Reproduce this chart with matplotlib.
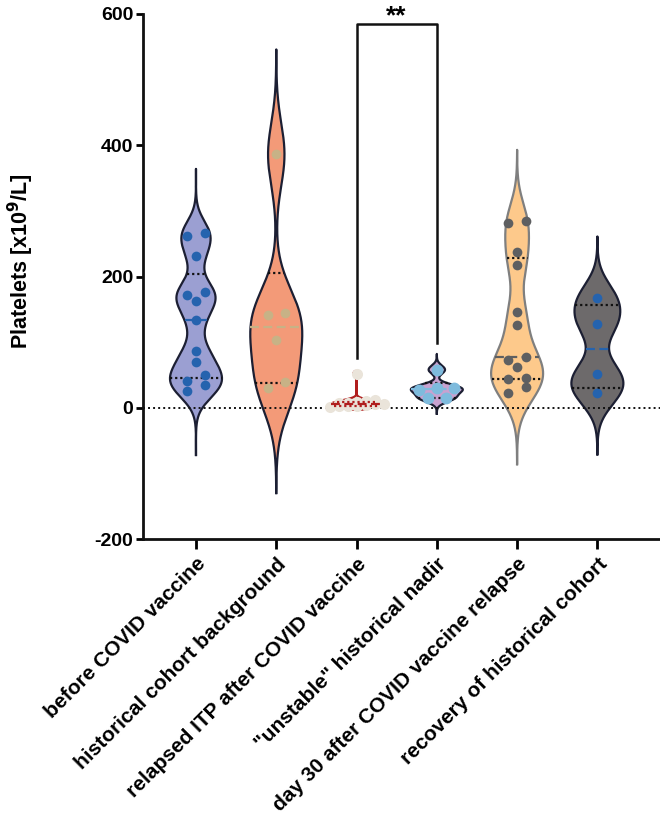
import numpy as np
import matplotlib
matplotlib.use('Agg')
import matplotlib.pyplot as plt

plt.rcParams['font.family'] = ['Liberation Sans', 'DejaVu Sans']
plt.rcParams['font.weight'] = 'bold'

# ---------------- data ----------------
categories = ["before COVID vaccine", "historical cohort background",
              "relapsed ITP after COVID vaccine", '"unstable" historical nadir',
              "day 30 after COVID vaccine relapse", "recovery of historical cohort"]

before_vaccine = [267, 262, 231, 177, 172, 163, 133, 86, 70, 50, 41, 35, 25]
historical_background = [386, 145, 141, 104, 40, 30]
relapsed_after_vaccine = [52, 12, 10, 9, 8, 7, 6, 5, 4, 3, 2, 2, 1]
unstable_nadir = [58, 30, 30, 27, 15, 15]
day30_relapse = [285, 282, 237, 218, 146, 126, 78, 73, 62, 45, 44, 32, 22]
recovery_historical = [167, 128, 51, 23]

groups = [before_vaccine, historical_background, relapsed_after_vaccine,
          unstable_nadir, day30_relapse, recovery_historical]

y_ticks = [-200, 0, 200, 400, 600]
y_label = "Platelets [x10$^{\\mathbf{9}}$/L]"
bracket_pair = (2, 3)
bracket_top = 585
bracket_ends = [76, 99]
significance_label = "**"

# ---------------- styles ----------------
fills = ["#9B9FD2", "#F39A78", "#EEE9E1", "#C8A2D0", "#FDC98B", "#6D6A6B"]
edges = ["#1C1F33", "#1C1F33", "#B01E1E", "#1C1F33", "#7F7F7F", "#1C1F33"]
point_cols = ["#2563AE", "#C7B286", "#EAE4DA", "#7EBBDD", "#5E5F61", "#2563AE"]
median_cols = ["#2563AE", "#C7B286", "#B01E1E", "#7EBBDD", "#5E5F61", "#2563AE"]
quart_cols = ["#111111", "#111111", "#B01E1E", "#111111", "#111111", "#111111"]
lines_on_top = [False, False, True, False, False, False]
bws = [22, 48, 3.5, 6.5, 32, 27]
exts = [97, 160, 4, 24, 108, 94]
pt_spacing_px = [17.4, 17.4, 9.0, 17.5, 17.4, 17.4]
row_thresh = [13, 13, 6, 13, 13, 13]
pt_size = [7, 7, 8, 8.5, 7, 7]

W, H, DPI = 6.6, 8.23, 100
fig = plt.figure(figsize=(W, H), dpi=DPI)
ax = fig.add_axes([143 / 660, 1 - 539 / 823, (660 - 143) / 660, (539 - 14) / 823])
ax.set_xlim(-0.66, 5.78)
ax.set_ylim(-200, 600)

px_per_cat = (660 - 143) / (5.78 + 0.66)
px_per_val = (539 - 14) / 800.0
max_half = 26.0 / px_per_cat


def kde(vals, grid, bw):
    v = np.asarray(vals, float)[:, None]
    return np.exp(-0.5 * ((grid[None, :] - v) / bw) ** 2).sum(axis=0)


def swarm(vals, spacing_units, thresh_units):
    order = sorted(vals, reverse=True)
    rows = []
    for v in order:
        if rows and rows[-1][0] - v < thresh_units:
            rows[-1].append(v)
        else:
            rows.append([v])
    xs, ys = [], []
    for row in rows:
        n = len(row)
        for i, v in enumerate(row):
            xs.append(((n - 1) / 2 - i) * spacing_units)
            ys.append(v)
    return np.array(xs), np.array(ys)


for i, vals in enumerate(groups):
    vals = np.asarray(vals, float)
    lo, hi = vals.min() - exts[i], vals.max() + exts[i]
    grid = np.linspace(lo, hi, 600)
    d = kde(vals, grid, bws[i])
    scale = max_half / d.max()
    half = d * scale
    ax.fill_betweenx(grid, i - half, i + half, facecolor=fills[i],
                     edgecolor='none', zorder=2)
    xs_out = np.concatenate([i - half, (i + half)[::-1], [i - half[0]]])
    ys_out = np.concatenate([grid, grid[::-1], [grid[0]]])
    ax.plot(xs_out, ys_out, color=edges[i], lw=1.6, zorder=3,
            solid_joinstyle='round')

    lz = 7 if lines_on_top[i] else 4
    q1, med, q3 = np.percentile(vals, [25, 50, 75], method='weibull')
    for q, col, ls in [(q1, quart_cols[i], (0, (1, 1.3))),
                       (q3, quart_cols[i], (0, (1, 1.3))),
                       (med, median_cols[i], (0, (4, 2)))]:
        hw = kde(vals, np.array([q]), bws[i])[0] * scale
        ax.plot([i - hw, i + hw], [q, q], color=col, lw=1.6, ls=ls, zorder=lz)

    sx, sy = swarm(vals, pt_spacing_px[i] / px_per_cat, row_thresh[i])
    ax.plot(i + sx, sy, 'o', ms=pt_size[i], mfc=point_cols[i], mec='none',
            zorder=6)

# zero line
ax.axhline(0, color='#111111', lw=1.4, ls=(0, (1, 1.6)), zorder=5)

# significance bracket
a, b = bracket_pair
ax.plot([a, a, b, b], [bracket_ends[0], bracket_top, bracket_top, bracket_ends[1]],
        color='#111111', lw=1.8, zorder=7, clip_on=False)
ax.text((a + b) / 2, bracket_top + 1, significance_label, ha='center',
        va='baseline', fontsize=19, fontweight='bold', clip_on=False)

# axes styling
for s in ['top', 'right']:
    ax.spines[s].set_visible(False)
for s in ['left', 'bottom']:
    ax.spines[s].set_linewidth(2.0)
    ax.spines[s].set_color('#111111')

ax.set_yticks(y_ticks)
ax.set_yticklabels([str(t) for t in y_ticks], fontsize=14, fontweight='bold')
ax.tick_params(axis='y', length=5, width=2, pad=2)
ax.set_xticks(range(len(categories)))
ax.set_xticklabels(categories, rotation=45, ha='right', va='top',
                   rotation_mode='anchor', fontsize=15, fontweight='bold')
ax.tick_params(axis='x', length=7, width=2, pad=4)
ax.set_ylabel(y_label, fontsize=15.5, fontweight='bold')
ax.yaxis.set_label_coords((36 - 143) / 517, (539 - 261) / 525)

fig.savefig('out.png', dpi=DPI)
